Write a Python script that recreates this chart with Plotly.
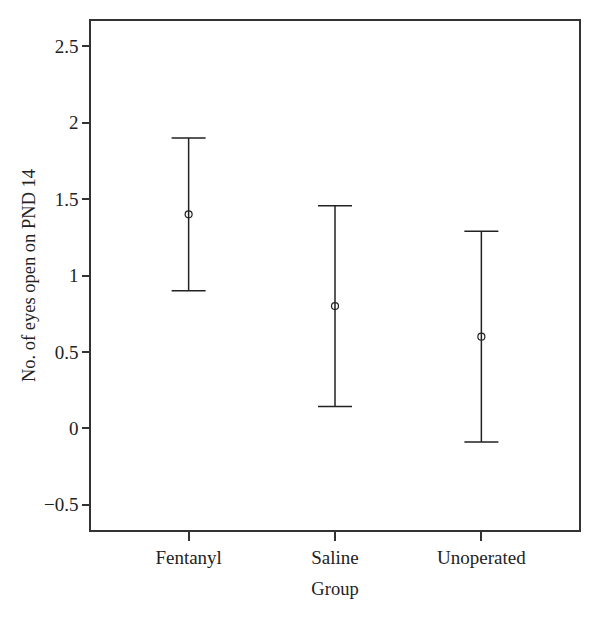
import plotly.graph_objects as go

groups = ["Fentanyl", "Saline", "Unoperated"]
means = [1.4, 0.8, 0.6]
errors = [0.5, 0.657, 0.69]
ytick_vals = [-0.5, 0, 0.5, 1, 1.5, 2, 2.5]
ytick_text = ["\u22120.5", "0", "0.5", "1", "1.5", "2", "2.5"]

xpos = list(range(1, len(groups) + 1))

fig = go.Figure()
fig.add_trace(go.Scatter(
    x=xpos, y=means, mode="markers",
    marker=dict(symbol="circle-open", size=7, color="#222",
                line=dict(width=1.2, color="#222")),
    error_y=dict(type="data", array=errors, visible=True,
                 color="#222", thickness=1.5, width=17),
    showlegend=False,
))

tick_font = dict(family="Liberation Serif, DejaVu Serif, serif", size=19, color="#222")
title_font = dict(family="Liberation Serif, DejaVu Serif, serif", size=18.5, color="#222")
# page body has an 8px margin, so the figure is 8px smaller and the margins shifted
fig.update_layout(
    width=592, height=612,
    margin=dict(l=83, r=21, t=13, b=90),
    paper_bgcolor="white", plot_bgcolor="white",
    font=tick_font,
    xaxis=dict(range=[0.333, 3.667], tickvals=xpos, ticktext=groups,
               tickfont=tick_font,
               ticks="outside", ticklen=9, tickwidth=1.5, tickcolor="#333",
               showline=True, linecolor="#333", linewidth=1.5, mirror=True,
               showgrid=False, zeroline=False,
               title=dict(text="Group", font=title_font, standoff=16)),
    yaxis=dict(range=[-0.665, 2.665], tickvals=ytick_vals, ticktext=ytick_text,
               tickfont=tick_font,
               ticks="outside", ticklen=7, tickwidth=1.5, tickcolor="#333",
               showline=True, linecolor="#333", linewidth=1.5, mirror=True,
               showgrid=False, zeroline=False,
               title=dict(text="No. of eyes open on PND 14", font=title_font, standoff=4)),
)

fig.write_html("out.html")
